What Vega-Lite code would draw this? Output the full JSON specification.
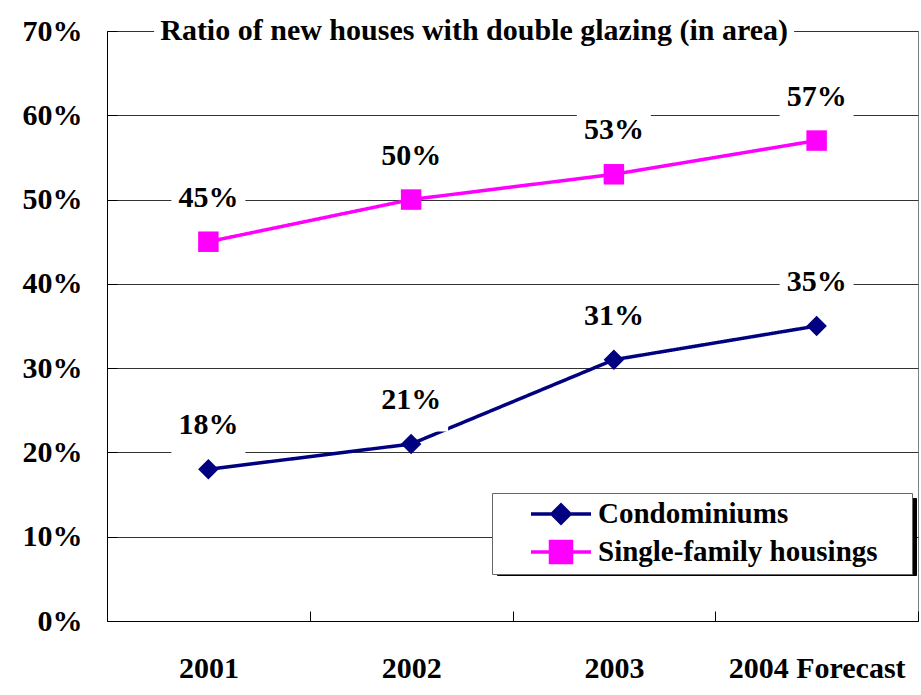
{
  "$schema": "https://vega.github.io/schema/vega-lite/v6.json",
  "width": 811,
  "height": 590,
  "autosize": {"type": "none"},
  "padding": {"left": 107, "top": 31, "right": 3, "bottom": 74},
  "background": "white",
  "config": {
    "font": "Times New Roman, Liberation Serif, serif",
    "view": {"stroke": "#808080", "strokeWidth": 1}
  },
  "data": {
    "values": [
      {"year": "2001", "series": "Condominiums", "value": 0.18},
      {"year": "2002", "series": "Condominiums", "value": 0.21},
      {"year": "2003", "series": "Condominiums", "value": 0.31},
      {"year": "2004 Forecast", "series": "Condominiums", "value": 0.35},
      {"year": "2001", "series": "Single-family housings", "value": 0.45},
      {"year": "2002", "series": "Single-family housings", "value": 0.50},
      {"year": "2003", "series": "Single-family housings", "value": 0.53},
      {"year": "2004 Forecast", "series": "Single-family housings", "value": 0.57}
    ]
  },
  "layer": [
    {
      "mark": {"type": "line", "strokeWidth": 3.5},
      "encoding": {
        "x": {
          "field": "year", "type": "nominal",
          "sort": ["2001", "2002", "2003", "2004 Forecast"],
          "scale": {"paddingInner": 0, "paddingOuter": 0},
          "axis": {
            "title": null, "labelAngle": 0, "tickBand": "extent",
            "tickSize": -10, "tickColor": "#000", "domainColor": "#000",
            "labelFont": "Times New Roman, Liberation Serif, serif", "labelFontSize": 30, "labelFontWeight": "bold",
            "labelColor": "#000", "labelBaseline": "middle", "labelPadding": 57, "labelLimit": 400
          }
        },
        "y": {
          "field": "value", "type": "quantitative",
          "scale": {"domain": [0, 0.7], "nice": false},
          "axis": {
            "title": null, "values": [0, 0.1, 0.2, 0.3, 0.4, 0.5, 0.6, 0.7], "format": ".0%",
            "tickSize": -10, "tickColor": "#000", "domainColor": "#000",
            "grid": true, "gridColor": "#333333", "gridWidth": 1,
            "labelFont": "Times New Roman, Liberation Serif, serif", "labelFontSize": 30, "labelFontWeight": "bold",
            "labelColor": "#000", "labelPadding": 35
          }
        },
        "color": {
          "field": "series", "type": "nominal",
          "scale": {"domain": ["Condominiums", "Single-family housings"], "range": ["#000080", "#FF00FF"]},
          "legend": {
            "title": "\u00a0", "titleOrient": "right", "titlePadding": 30, "titleFontSize": 2,
            "orient": "none", "legendX": 385, "legendY": 462, "zindex": 2,
            "fillColor": "white", "strokeColor": "#666", "padding": 4, "rowPadding": 4,
            "labelFont": "Times New Roman, Liberation Serif, serif", "labelFontSize": 29, "labelFontWeight": "bold", "labelColor": "#000",
            "labelLimit": 500, "symbolSize": 900, "labelOffset": 68,
            "encode": {
              "symbols": {
                "update": {
                  "shape": {"signal": "datum.value === 'Condominiums' ? 'M1.2,0H5.2M3.2,-0.6L3.8,0L3.2,0.6L2.6,0Z' : 'M1.2,0H5.2M2.5,-0.7H3.9V0.7H2.5Z'"},
                  "fill": {"scale": "color", "field": "value"},
                  "stroke": {"scale": "color", "field": "value"},
                  "strokeWidth": {"value": 3.5},
                  "opacity": {"value": 1}
                }
              }
            }
          }
        },
        "strokeDash": {
          "field": "series", "type": "nominal",
          "scale": {"range": [[1, 0], [1, 0]]},
          "legend": {
            "title": "\u00a0", "titleOrient": "right", "titlePadding": 30, "titleFontSize": 2,
            "orient": "none", "legendX": 390, "legendY": 467, "zindex": 1,
            "fillColor": "black", "strokeColor": "black", "padding": 4, "rowPadding": 4,
            "labelFont": "Times New Roman, Liberation Serif, serif", "labelFontSize": 29, "labelFontWeight": "bold", "labelColor": "#000",
            "labelLimit": 500, "symbolSize": 900, "labelOffset": 68,
            "encode": {
              "symbols": {
                "update": {
                  "shape": {"signal": "datum.value === 'Condominiums' ? 'M1.2,0H5.2M3.2,-0.6L3.8,0L3.2,0.6L2.6,0Z' : 'M1.2,0H5.2M2.5,-0.7H3.9V0.7H2.5Z'"},
                  "fill": {"value": "black"},
                  "stroke": {"value": "black"},
                  "strokeWidth": {"value": 3}
                }
              }
            }
          }
        }
      }
    },
    {
      "mark": {"type": "point", "filled": true, "opacity": 1, "strokeWidth": 0},
      "encoding": {
        "x": {"field": "year", "type": "nominal", "sort": ["2001", "2002", "2003", "2004 Forecast"]},
        "y": {"field": "value", "type": "quantitative"},
        "color": {"field": "series", "type": "nominal"},
        "shape": {"field": "series", "type": "nominal", "scale": {"range": ["diamond", "square"]}, "legend": null},
        "size": {"value": 420}
      }
    },
    {
      "mark": {"type": "point", "filled": true, "opacity": 1, "fill": "white", "strokeWidth": 0,
               "shape": "M-1,-0.6H1V0.85H-1Z", "size": 5476, "yOffset": -44},
      "encoding": {
        "x": {"field": "year", "type": "nominal", "sort": ["2001", "2002", "2003", "2004 Forecast"]},
        "y": {"field": "value", "type": "quantitative"}
      }
    },
    {
      "mark": {"type": "text", "dy": -44, "font": "Times New Roman, Liberation Serif, serif", "fontSize": 30, "fontWeight": "bold",
               "color": "#000", "baseline": "middle", "align": "center"},
      "encoding": {
        "x": {"field": "year", "type": "nominal", "sort": ["2001", "2002", "2003", "2004 Forecast"]},
        "y": {"field": "value", "type": "quantitative"},
        "text": {"field": "value", "type": "quantitative", "format": ".0%"}
      }
    },
    {
      "data": {"values": [{"title": "Ratio of new houses with double glazing (in area)"}]},
      "layer": [
        {
          "mark": {"type": "point", "filled": true, "opacity": 1, "fill": "white", "strokeWidth": 0,
                   "shape": "M-1,-0.0625H1V0.0625H-1Z", "size": 409600, "xOffset": 63},
          "encoding": {
            "x": {"datum": "2002", "type": "nominal"},
            "y": {"datum": 0.7, "type": "quantitative"}
          }
        },
        {
          "mark": {"type": "text", "xOffset": 63, "font": "Times New Roman, Liberation Serif, serif", "fontSize": 30, "fontWeight": "bold",
                   "color": "#000", "baseline": "middle", "align": "center"},
          "encoding": {
            "x": {"datum": "2002", "type": "nominal"},
            "y": {"datum": 0.7, "type": "quantitative"},
            "text": {"field": "title", "type": "nominal"}
          }
        }
      ]
    }
  ]
}
